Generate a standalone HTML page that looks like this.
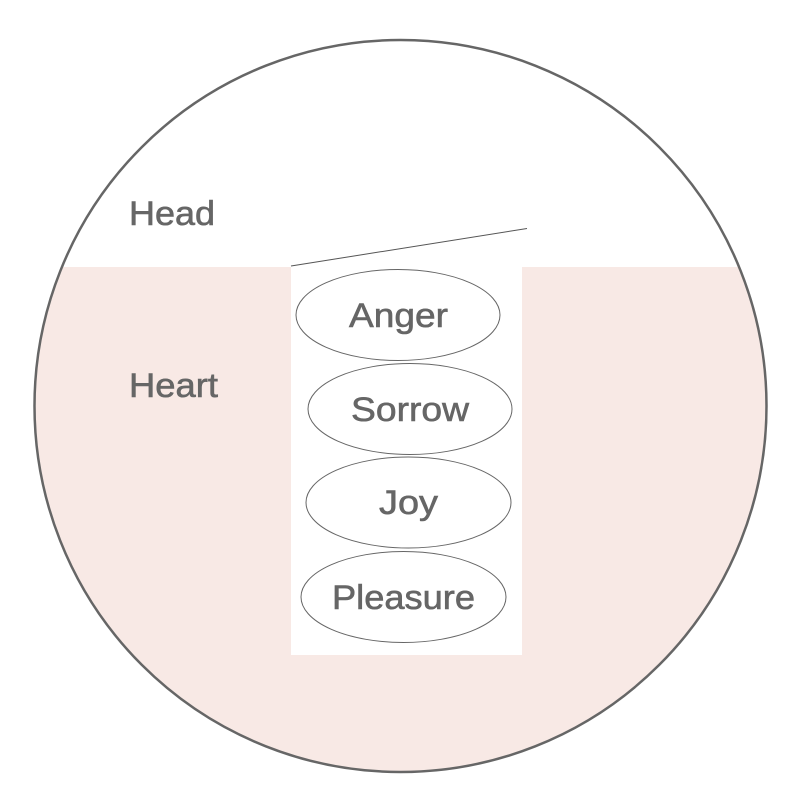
<!DOCTYPE html>
<html><head><meta charset="utf-8"><style>
html,body{margin:0;padding:0;background:#fff;}
text{font-family:"Liberation Sans",Arial,sans-serif;fill:#666;stroke:#666;stroke-width:0.6;}
</style></head><body>
<svg width="800" height="800" viewBox="0 0 800 800" xmlns="http://www.w3.org/2000/svg">
<defs><clipPath id="c"><circle cx="400.5" cy="406" r="366"/></clipPath></defs>
<g clip-path="url(#c)">
<rect x="0" y="267" width="800" height="533" fill="#f8e9e5"/>
<rect x="291" y="267" width="231" height="388" fill="#fff"/>
</g>
<circle cx="400.5" cy="406" r="366" fill="none" stroke="#666" stroke-width="2.5"/>
<line x1="291" y1="266" x2="527" y2="228.5" stroke="#555" stroke-width="1"/>
<g fill="none" stroke="#666" stroke-width="1">
<ellipse cx="398" cy="315" rx="102" ry="45.5"/>
<ellipse cx="410" cy="409" rx="102" ry="45.5"/>
<ellipse cx="408.5" cy="502.5" rx="102.5" ry="45.5"/>
<ellipse cx="403.5" cy="597" rx="102.5" ry="45.5"/>
</g>
<g font-size="34">
<text x="129" y="225" textLength="86" lengthAdjust="spacingAndGlyphs">Head</text>
<text x="129" y="397" textLength="89" lengthAdjust="spacingAndGlyphs">Heart</text>
<text x="349" y="327" textLength="99" lengthAdjust="spacingAndGlyphs">Anger</text>
<text x="351" y="421" textLength="118" lengthAdjust="spacingAndGlyphs">Sorrow</text>
<text x="379" y="514" textLength="59" lengthAdjust="spacingAndGlyphs">Joy</text>
<text x="332" y="609" textLength="143" lengthAdjust="spacingAndGlyphs">Pleasure</text>
</g>
</svg>
</body></html>
